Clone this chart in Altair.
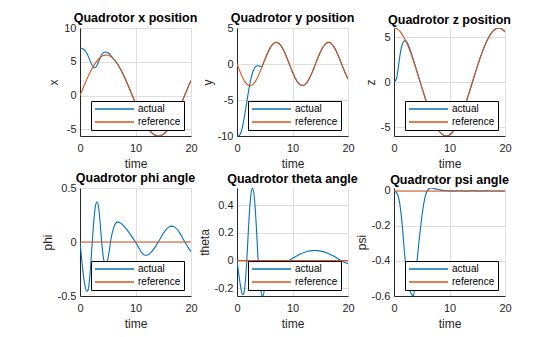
import altair as alt
import pandas as pd

# time samples (s)
T = [0, 0.25, 0.5, 0.75, 1, 1.25, 1.5, 1.75, 2, 2.25, 2.5, 2.75, 3, 3.25, 3.5, 3.75,
     4, 4.25, 4.5, 4.75, 5, 5.25, 5.5, 5.75, 6, 6.25, 6.5, 6.75, 7, 7.25, 7.5, 7.75, 8,
     8.5, 9, 9.5, 10, 10.5, 11, 11.5, 12, 12.5, 13, 13.5, 14, 14.5, 15, 15.5, 16, 16.5,
     17, 17.5, 18, 18.5, 19, 19.5, 20]

X_REF = [0.0, 0.499, 0.995, 1.484, 1.963, 2.428, 2.877, 3.305, 3.710, 4.090, 4.441, 4.761,
         5.049, 5.301, 5.517, 5.694, 5.832, 5.929, 5.985, 6.000, 5.972, 5.904, 5.794, 5.645,
         5.456, 5.229, 4.966, 4.668, 4.339, 3.978, 3.591, 3.178, 2.745,
         1.820, 0.847, -0.150, -1.143, -2.105, -3.008, -3.827, -4.541, -5.129, -5.574, -5.865,
         -5.994, -5.956, -5.754, -5.392, -4.880, -4.233, -3.469, -2.609, -1.677, -0.698, 0.301,
         1.291, 2.245]
X_ACT = [7.00, 6.98, 6.92, 6.78, 6.55, 6.22, 5.80, 5.30, 4.80, 4.38, 4.12, 4.12,
         4.38, 4.82, 5.32, 5.80, 6.15, 6.36, 6.44, 6.42, 6.33, 6.18, 5.98, 5.72,
         5.47, 5.23, 4.966, 4.668, 4.339, 3.978, 3.591, 3.178, 2.745,
         1.820, 0.847, -0.150, -1.143, -2.105, -3.008, -3.827, -4.541, -5.129, -5.574, -5.865,
         -5.994, -5.956, -5.754, -5.392, -4.880, -4.233, -3.469, -2.609, -1.677, -0.698, 0.301,
         1.291, 2.245]

Y_REF = [0.0, -0.497, -0.981, -1.438, -1.855, -2.220, -2.525, -2.759, -2.915, -2.992, -2.986,
         -2.897, -2.728, -2.483, -2.169, -1.796, -1.371, -0.910, -0.423, 0.075, 0.571, 1.052,
         1.504, 1.914, 2.271, 2.564, 2.787, 2.932, 2.998, 2.978, 2.877, 2.696, 2.441,
         1.734, 0.839, -0.150, -1.122, -1.971, -2.603, -2.947, -2.968, -2.662, -2.062, -1.237,
         -0.274, 0.719, 1.632, 2.366, 2.839, 3.000, 2.830, 2.349, 1.610, 0.693, -0.301,
         -1.261, -2.082]
Y_ACT = [-10.0, -9.98, -9.85, -9.45, -8.7, -7.7, -6.55, -5.35, -4.15, -3.05, -2.1,
         -1.35, -0.8, -0.45, -0.28, -0.24, -0.27, -0.33, -0.36, 0.09, 0.58, 1.052,
         1.504, 1.914, 2.271, 2.564, 2.787, 2.932, 2.998, 2.978, 2.877, 2.696, 2.441,
         1.734, 0.839, -0.150, -1.122, -1.971, -2.603, -2.947, -2.968, -2.662, -2.062, -1.237,
         -0.274, 0.719, 1.632, 2.366, 2.839, 3.000, 2.830, 2.349, 1.610, 0.693, -0.301,
         -1.261, -2.082]

Z_REF = [6.000, 5.979, 5.917, 5.813, 5.670, 5.487, 5.265, 5.008, 4.715, 4.390, 4.034, 3.651,
         3.242, 2.810, 2.359, 1.892, 1.411, 0.921, 0.424, -0.075, -0.574, -1.069, -1.557,
         -2.034, -2.497, -2.942, -3.367, -3.769, -4.145, -4.491, -4.807, -5.089, -5.335,
         -5.717, -5.940, -5.998, -5.890, -5.619, -5.192, -4.621, -3.922, -3.114, -2.220, -1.265,
         -0.274, 0.724, 1.702, 2.633, 3.490, 4.252, 4.895, 5.403, 5.761, 5.959, 5.992,
         5.860, 5.564]
Z_ACT = [0.0, 0.12, 0.55, 1.5, 2.65, 3.6, 4.2, 4.5, 4.6, 4.52, 4.22, 3.86,
         3.42, 2.95, 2.45, 1.95, 1.44, 0.93, 0.424, -0.075, -0.574, -1.069, -1.557,
         -2.034, -2.497, -2.942, -3.367, -3.769, -4.145, -4.491, -4.807, -5.089, -5.335,
         -5.717, -5.940, -5.998, -5.890, -5.619, -5.192, -4.621, -3.922, -3.114, -2.220, -1.265,
         -0.274, 0.724, 1.702, 2.633, 3.490, 4.252, 4.895, 5.403, 5.761, 5.959, 5.992,
         5.860, 5.564]

PHI_ACT = [0.0, -0.13, -0.26, -0.36, -0.43, -0.458, -0.435, -0.33, -0.16, 0.03, 0.2, 0.32,
           0.37, 0.35, 0.25, 0.1, -0.05, -0.155, -0.2, -0.2, -0.16, -0.09, 0.0, 0.07,
           0.12, 0.158, 0.178, 0.186, 0.183, 0.177, 0.168, 0.155, 0.14,
           0.11, 0.075, 0.038, 0.0, -0.045, -0.09, -0.118, -0.123, -0.11, -0.085, -0.05,
           -0.008, 0.035, 0.08, 0.115, 0.138, 0.147, 0.14, 0.118, 0.082, 0.035, -0.01,
           -0.052, -0.09]
THETA_ACT = [0.0, -0.075, -0.15, -0.21, -0.245, -0.235, -0.15, -0.01, 0.182, 0.355, 0.474,
             0.523, 0.495, 0.394, 0.235, 0.04, -0.098, -0.197, -0.253, -0.248, -0.18, -0.11,
             -0.07, -0.05, -0.04, -0.035, -0.032, -0.03, -0.028, -0.026, -0.024, -0.022, -0.02,
             -0.015, -0.008, 0.003, 0.017, 0.028, 0.039, 0.049, 0.057, 0.064, 0.069, 0.072,
             0.073, 0.072, 0.069, 0.065, 0.058, 0.05, 0.041, 0.031, 0.019, 0.007, -0.005,
             -0.014, -0.022]
PSI_ACT = [0.0, -0.003, -0.012, -0.03, -0.065, -0.125, -0.2, -0.3, -0.39, -0.46, -0.515,
           -0.555, -0.58, -0.595, -0.6, -0.53, -0.44, -0.37, -0.29, -0.22, -0.15, -0.095,
           -0.05, -0.018, 0.002, 0.011, 0.016, 0.017, 0.016, 0.014, 0.012, 0.01, 0.008,
           0.005, 0.003, 0.001, 0.0, -0.001, 0.0, 0.001, 0.001, 0.0, -0.001, 0.0,
           0.001, 0.001, 0.0, -0.001, 0.0, 0.001, 0.0, 0.0, 0.0, 0.0, 0.0,
           0.0, 0.0]
ANG_REF_T = [0, 5, 10, 15, 20]
ANG_REF = [0.0, 0.0, 0.0, 0.0, 0.0]

SERIES = ["actual", "reference"]
COLORS = ["#0072BD", "#D95319"]
FONT = "Liberation Sans"
INK = "#262626"


def panel(title, ylab, act, ref, domain, ticks, title_offset, ref_t=None):
    ref_t = T if ref_t is None else ref_t
    df = pd.concat([
        pd.DataFrame({"time": T, "value": act, "series": "actual"}),
        pd.DataFrame({"time": ref_t, "value": ref, "series": "reference"}),
    ], ignore_index=True)
    return alt.Chart(df, title=alt.TitleParams(
        title, font=FONT, fontSize=12.5, fontWeight="bold", color="black",
        offset=title_offset, anchor="middle")).mark_line(
        strokeWidth=1.1, interpolate="monotone", clip=True
    ).encode(
        x=alt.X("time:Q", scale=alt.Scale(domain=[0, 20], nice=False),
                axis=alt.Axis(values=[0, 10, 20], title="time", labelPadding=6,
                              titlePadding=5)),
        y=alt.Y("value:Q", scale=alt.Scale(domain=domain, nice=False, zero=False),
                axis=alt.Axis(values=ticks, title=ylab, labelExpr="'' + datum.value")),
        color=alt.Color("series:N",
                        scale=alt.Scale(domain=SERIES, range=COLORS),
                        legend=alt.Legend(orient="none", legendX=11, legendY=73, title=None,
                                          fillColor="white", strokeColor="black",
                                          padding=3, symbolType="stroke",
                                          symbolSize=1521, symbolStrokeWidth=1.4,
                                          clipHeight=10, labelOffset=3,
                                          labelFont=FONT, labelFontSize=10,
                                          labelColor="black", rowPadding=3)),
    ).properties(width=111, height=108)


charts = [
    panel("Quadrotor x position", "x", X_ACT, X_REF, [-6, 10], [-5, 0, 5, 10], -2.5),
    panel("Quadrotor y position", "y", Y_ACT, Y_REF, [-10, 5], [-10, -5, 0, 5], -2.5),
    panel("Quadrotor z position", "z", Z_ACT, Z_REF, [-6, 6], [-5, 0, 5], 2),
    panel("Quadrotor phi angle", "phi", PHI_ACT, ANG_REF, [-0.5, 0.5], [-0.5, 0, 0.5], -2.5, ANG_REF_T),
    panel("Quadrotor theta angle", "theta", THETA_ACT, ANG_REF, [-0.255, 0.524], [-0.2, 0, 0.2, 0.4], 3, ANG_REF_T),
    panel("Quadrotor psi angle", "psi", PSI_ACT, ANG_REF, [-0.6, 0.017], [-0.6, -0.4, -0.2, 0], -1.6, ANG_REF_T),
]

chart = alt.ConcatChart(
    concat=charts, columns=3, spacing=alt.RowColnumber(row=52, column=46), bounds="flush"
).resolve_scale(
    color="independent", x="independent", y="independent"
).resolve_legend(color="independent").properties(
    padding={"left": 41, "top": 12, "right": 5, "bottom": 5},
    background="white",
).configure_view(stroke=None).configure_axis(
    domainColor=INK, domainWidth=1, labelColor=INK, titleColor=INK,
    labelFont=FONT, titleFont=FONT, labelFontSize=11, titleFontSize=12,
    titleFontWeight="normal", gridColor="#dedede", gridWidth=1,
    ticks=False, tickSize=0, labelPadding=4, titlePadding=3, labelFlush=False,
)

chart.save("out.html", embed_options={"renderer": "svg", "actions": False})
